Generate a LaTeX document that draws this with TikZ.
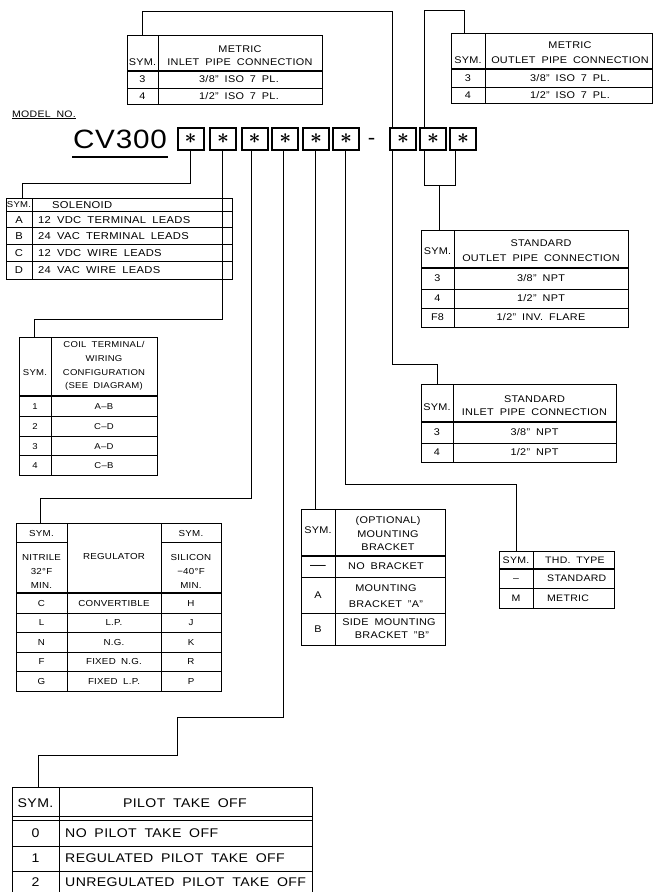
\documentclass[tikz,border=0pt]{standalone}
\usepackage{fontspec}
\setmainfont{Liberation Sans}[FakeStretch=1.12,LetterSpace=3,WordSpace=1.8]
\newcommand\fsM{\fontsize{9.7}{11}\selectfont}
\newcommand\fsS{\fontsize{10}{12}\selectfont}
\newcommand\fsC{\fontsize{8.5}{10}\selectfont}
\newcommand\fsR{\fontsize{8.7}{10}\selectfont}
\newcommand\fsT{\fontsize{9.4}{11}\selectfont}
\newcommand\fsP{\fontsize{12.6}{14}\selectfont}
\newcommand\fsCV{\fontsize{26.5}{28}\selectfont}
\newcommand\starsym{{\fontsize{20}{20}\selectfont\boldmath$\ast$}}
\begin{document}
\begin{tikzpicture}[x=1pt,y=-1pt,line join=miter,
  tb/.style={line width=0.9pt},
  hd/.style={line width=1.5pt},
  cn/.style={line width=0.8pt},
  sbox/.style={draw, line width=1.8pt, minimum width=26pt, minimum height=22pt, inner sep=0pt},
  tM/.style={inner sep=0pt, text depth=0pt, font=\fsM, text height=6.95pt},
  tS/.style={inner sep=0pt, text depth=0pt, font=\fsS, text height=7.16pt},
  tC/.style={inner sep=0pt, text depth=0pt, font=\fsC, text height=6.09pt},
  tR/.style={inner sep=0pt, text depth=0pt, font=\fsR, text height=6.23pt},
  tT/.style={inner sep=0pt, text depth=0pt, font=\fsT, text height=6.73pt},
  tP/.style={inner sep=0pt, text depth=0pt, font=\fsP, text height=9.02pt}]
\clip (0,0) rectangle (654,892);
\fill[white] (0,0) rectangle (654,892);

% ---- model number ----
\node[tT] (mn) at (44,113.7) {MODEL NO.};
\draw[line width=0.8pt] (12,118.5) -- (76,118.5);
\node[inner sep=0pt, text depth=0pt, font=\fsCV, text height=19pt] (cv) at (120,138.8) {CV300};
\draw[line width=1.2pt] (72,157) -- (168,157);
\node[sbox] (b1) at (190.7,139) {\starsym};
\node[sbox] (b2) at (223,139) {\starsym};
\node[sbox] (b3) at (254.7,139) {\starsym};
\node[sbox] (b4) at (285.3,139) {\starsym};
\node[sbox] (b5) at (316,139) {\starsym};
\node[sbox] (b6) at (346,139) {\starsym};
\node[inner sep=0pt, font=\fontsize{20}{20}\selectfont] (dsh) at (371.5,141) {-};
\node[sbox] (b7) at (403,139) {\starsym};
\node[sbox] (b8) at (433,139) {\starsym};
\node[sbox] (b9) at (463,139) {\starsym};

% ---- connector end points ----
\coordinate (csol) at (22,198);
\coordinate (ccoil) at (34,337);
\coordinate (creg) at (40,523);
\coordinate (cpil) at (38,787);
\coordinate (cbr) at (315,509);
\coordinate (cthd) at (516,551);
\coordinate (cmin) at (142,35);
\coordinate (cmout) at (464,33);
\coordinate (csin) at (437,384);
\coordinate (csout) at (439,230);
\coordinate (jout) at (439,185);

\draw[cn] (b1.south) |- (22,183) -- (csol);
\draw[cn] ([xshift=-1pt]b2.south) |- (34,319) -- (ccoil);
\draw[cn] ([xshift=-3pt]b3.south) |- (40,498) -- (creg);
\draw[cn] ([xshift=-2pt]b4.south) |- (177,717) |- (38,755) -- (cpil);
\draw[cn] ([xshift=-1pt]b5.south) -- (cbr);
\draw[cn] ([xshift=-1pt]b6.south) |- (516,484) -- (cthd);
\draw[cn] ([xshift=-11pt]b7.north) |- (142,11) -- (cmin);
\draw[cn] ([xshift=-11pt]b7.south) |- (437,364) -- (csin);
\draw[cn] ([xshift=-9pt]b8.north) |- (464,10) -- (cmout);
\draw[cn] ([xshift=-9pt]b8.south) |- (455,185) -- ([xshift=-8pt]b9.south);
\draw[cn] (jout) -- (csout);

% ---- metric inlet ----
\draw[tb] (127,35) rectangle (322,104);
\draw[tb] (158,35) -- (158,104) (127,88) -- (322,88);
\draw[hd] (127,71) -- (322,71);
\node[tM] (a1) at (142.5,62) {SYM.};
\node[tM] (a2) at (240,49) {METRIC};
\node[tM] (a3) at (240,62) {INLET PIPE CONNECTION};
\node[tM] (a4) at (142.5,79.5) {3};
\node[tM] (a5) at (239,79.5) {3/8" ISO 7 PL.};
\node[tM] (a6) at (142.5,96) {4};
\node[tM] (a7) at (239,96) {1/2" ISO 7 PL.};

% ---- metric outlet ----
\draw[tb] (451,33) rectangle (652.5,103);
\draw[tb] (485,33) -- (485,103) (451,87) -- (652.5,87);
\draw[hd] (451,69) -- (652.5,69);
\node[tM] (m1) at (468,60) {SYM.};
\node[tM] (m2) at (570,45) {METRIC};
\node[tM] (m3) at (570,60) {OUTLET PIPE CONNECTION};
\node[tM] (m4) at (468,78) {3};
\node[tM] (m5) at (570,78) {3/8" ISO 7 PL.};
\node[tM] (m6) at (468,95) {4};
\node[tM] (m7) at (570,95) {1/2" ISO 7 PL.};

% ---- solenoid ----
\draw[tb] (6,198) rectangle (232,279);
\draw[tb] (32,198) -- (32,279);
\draw[tb] (6,211) -- (232,211);
\draw[tb] (6,227.5) -- (232,227.5) (6,244) -- (232,244) (6,261.5) -- (232,261.5);
\node[tC] (s0) at (19,204.5) {SYM.};
\node[tS, anchor=west] (s1) at (52,204.5) {SOLENOID};
\node[tS] (s2) at (19,219.5) {A};
\node[tS, anchor=west] (s3) at (38,219.5) {12 VDC TERMINAL LEADS};
\node[tS] (s4) at (19,236) {B};
\node[tS, anchor=west] (s5) at (38,236) {24 VAC TERMINAL LEADS};
\node[tS] (s6) at (19,253) {C};
\node[tS, anchor=west] (s7) at (38,253) {12 VDC WIRE LEADS};
\node[tS] (s8) at (19,270) {D};
\node[tS, anchor=west] (s9) at (38,270) {24 VAC WIRE LEADS};

% ---- coil terminal ----
\draw[tb] (19.5,337) rectangle (157,475);
\draw[tb] (51,337) -- (51,475);
\draw[hd] (19.5,396) -- (157,396);
\draw[tb] (19.5,416) -- (157,416) (19.5,436) -- (157,436) (19.5,455.5) -- (157,455.5);
\node[tC] (c0) at (35,372) {SYM.};
\node[tC] (c1) at (104,344) {COIL TERMINAL/};
\node[tC] (c2) at (104,358) {WIRING};
\node[tC] (c3) at (104,372) {CONFIGURATION};
\node[tC] (c4) at (104,385) {(SEE DIAGRAM)};
\node[tC] (c5) at (35,406) {1};
\node[tC] (c6) at (104,406) {A–B};
\node[tC] (c7) at (35,426) {2};
\node[tC] (c8) at (104,426) {C–D};
\node[tC] (c9) at (35,446) {3};
\node[tC] (c10) at (104,446) {A–D};
\node[tC] (c11) at (35,465) {4};
\node[tC] (c12) at (104,465) {C–B};

% ---- standard outlet ----
\draw[tb] (421,230) rectangle (628,327);
\draw[tb] (454,230) -- (454,327);
\draw[hd] (421,268) -- (628,268);
\draw[tb] (421,289) -- (628,289) (421,308) -- (628,308);
\node[tM] (o0) at (437.5,251) {SYM.};
\node[tM] (o1) at (541,243) {STANDARD};
\node[tM] (o2) at (541,258) {OUTLET PIPE CONNECTION};
\node[tM] (o3) at (437.5,278.5) {3};
\node[tM] (o4) at (541,278.5) {3/8" NPT};
\node[tM] (o5) at (437.5,298.5) {4};
\node[tM] (o6) at (541,298.5) {1/2" NPT};
\node[tM] (o7) at (437.5,317.5) {F8};
\node[tM] (o8) at (541,317.5) {1/2" INV. FLARE};

% ---- standard inlet ----
\draw[tb] (421,384) rectangle (616,462);
\draw[tb] (453,384) -- (453,462);
\draw[hd] (421,422) -- (616,422);
\draw[tb] (421,443) -- (616,443);
\node[tM] (i0) at (437,407) {SYM.};
\node[tM] (i1) at (534.5,399) {STANDARD};
\node[tM] (i2) at (534.5,412) {INLET PIPE CONNECTION};
\node[tM] (i3) at (437,432.5) {3};
\node[tM] (i4) at (534.5,432.5) {3/8" NPT};
\node[tM] (i5) at (437,452.5) {4};
\node[tM] (i6) at (534.5,452.5) {1/2" NPT};

% ---- regulator ----
\draw[tb] (16,523) rectangle (221,691);
\draw[tb] (67,523) -- (67,691) (161,523) -- (161,691);
\draw[tb] (16,542) -- (67,542) (161,542) -- (221,542);
\draw[hd] (16,593) -- (221,593);
\draw[tb] (16,613) -- (221,613) (16,632) -- (221,632) (16,652) -- (221,652) (16,671) -- (221,671);
\node[tR] (r0) at (41.5,533) {SYM.};
\node[tR] (r1) at (191,533) {SYM.};
\node[tR] (r2) at (41.5,557) {NITRILE};
\node[tR] (r3) at (41.5,571) {32°F};
\node[tR] (r4) at (41.5,585) {MIN.};
\node[tR] (r5) at (114,556) {REGULATOR};
\node[tR] (r6) at (191,557) {SILICON};
\node[tR] (r7) at (191,571) {−40°F};
\node[tR] (r8) at (191,585) {MIN.};
\node[tR] (r9) at (41.5,603) {C};
\node[tR] (r10) at (114,603) {CONVERTIBLE};
\node[tR] (r11) at (191,603) {H};
\node[tR] (r12) at (41.5,622.5) {L};
\node[tR] (r13) at (114,622.5) {L.P.};
\node[tR] (r14) at (191,622.5) {J};
\node[tR] (r15) at (41.5,642) {N};
\node[tR] (r16) at (114,642) {N.G.};
\node[tR] (r17) at (191,642) {K};
\node[tR] (r18) at (41.5,661.5) {F};
\node[tR] (r19) at (114,661.5) {FIXED N.G.};
\node[tR] (r20) at (191,661.5) {R};
\node[tR] (r21) at (41.5,681) {G};
\node[tR] (r22) at (114,681) {FIXED L.P.};
\node[tR] (r23) at (191,681) {P};

% ---- mounting bracket ----
\draw[tb] (301,509) rectangle (445,645);
\draw[tb] (335,509) -- (335,645);
\draw[hd] (301,556) -- (445,556);
\draw[tb] (301,577) -- (445,577) (301,613) -- (445,613);
\node[tM] (k0) at (318,530) {SYM.};
\node[tM] (k1) at (388,520) {(OPTIONAL)};
\node[tM] (k2) at (388,534) {MOUNTING};
\node[tM] (k3) at (388,547) {BRACKET};
\node[inner sep=0pt, font=\fontsize{14}{14}\selectfont] (k4) at (318,567) {—};
\node[tM] (k5) at (386,566.5) {NO BRACKET};
\node[tM] (k6) at (318,595) {A};
\node[tM] (k7) at (386,588) {MOUNTING};
\node[tM] (k8) at (386,604) {BRACKET "A"};
\node[tM] (k9) at (318,629) {B};
\node[tM] (k10) at (389,622) {SIDE MOUNTING};
\node[tM] (k11) at (392,635) {BRACKET "B"};

% ---- thread type ----
\draw[tb] (499,551) rectangle (614,608);
\draw[tb] (533,551) -- (533,608);
\draw[hd] (499,569) -- (614,569);
\draw[tb] (499,588) -- (614,588);
\node[tT] (h0) at (516,560) {SYM.};
\node[tT, anchor=west] (h1) at (545,560) {THD. TYPE};
\node[tT] (h2) at (516,578.5) {–};
\node[tT, anchor=west] (h3) at (547,578.5) {STANDARD};
\node[tT] (h4) at (516,598) {M};
\node[tT, anchor=west] (h5) at (547,598) {METRIC};

% ---- pilot take off ----
\draw[tb] (12,900) -- (12,787) -- (312,787) -- (312,900);
\draw[tb] (59,787) -- (59,900);
\draw[tb] (12,816.5) -- (312,816.5) (12,820) -- (312,820);
\draw[tb] (12,846) -- (312,846) (12,871) -- (312,871);
\node[tP] (p0) at (35.5,803) {SYM.};
\node[tP] (p1) at (185,803) {PILOT TAKE OFF};
\node[tP] (p2) at (35.5,833) {0};
\node[tP, anchor=west] (p3) at (65,833) {NO PILOT TAKE OFF};
\node[tP] (p4) at (35.5,858) {1};
\node[tP, anchor=west] (p5) at (65,858) {REGULATED PILOT TAKE OFF};
\node[tP] (p6) at (35.5,882) {2};
\node[tP, anchor=west] (p7) at (65,882) {UNREGULATED PILOT TAKE OFF};
\end{tikzpicture}
\end{document}
